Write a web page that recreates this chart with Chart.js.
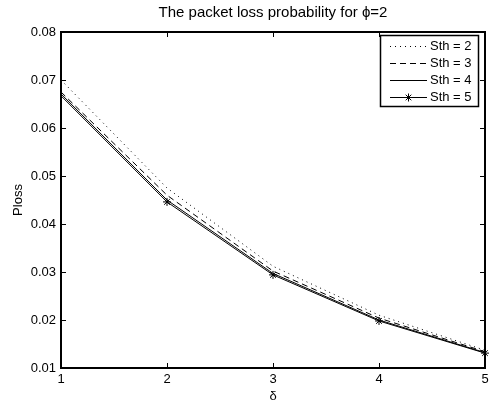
<!DOCTYPE html>
<html>
<head>
<meta charset="utf-8">
<script src="https://cdn.jsdelivr.net/npm/chart.js@4"></script>
<style>
  html, body { margin: 0; padding: 0; background: #fff; }
  #wrap { width: 490px; height: 404px; }
</style>
</head>
<body>
<div id="wrap"><canvas id="lossChart" width="490" height="404"></canvas></div>
<script>
// values
const deltas = ['1', '2', '3', '4', '5'];
const sth2 = [0.0700, 0.0475, 0.0312, 0.0210, 0.0137];
const sth3 = [0.0675, 0.0460, 0.0302, 0.0204, 0.0134];
const sth4 = [0.0671, 0.0450, 0.0297, 0.0200, 0.0132];
const sth5 = [0.0667, 0.0446, 0.0294, 0.0198, 0.0131];
const seriesNames = ['Sth = 2', 'Sth = 3', 'Sth = 4', 'Sth = 5'];

const FONT = '"Liberation Sans", Arial, Helvetica, sans-serif';
const dashes = [[1, 4], [6, 4], [], []];

// MATLAB-like box, inward ticks, title and legend
const matlabFrame = {
    id: 'matlabFrame',
    afterDatasetsDraw(chart) {
        const ctx = chart.ctx;
        const a = chart.chartArea;
        const x = chart.scales.x, y = chart.scales.y;
        ctx.save();
        ctx.strokeStyle = '#000';
        ctx.lineWidth = 1;
        ctx.beginPath();
        x.ticks.forEach((t, i) => {
            const px = Math.round(x.getPixelForTick(i)) + 0.5;
            ctx.moveTo(px, a.bottom); ctx.lineTo(px, a.bottom - 5);
            ctx.moveTo(px, a.top); ctx.lineTo(px, a.top + 5);
        });
        y.ticks.forEach((t, i) => {
            const py = Math.round(y.getPixelForTick(i)) + 0.5;
            ctx.moveTo(a.left, py); ctx.lineTo(a.left + 5, py);
            ctx.moveTo(a.right, py); ctx.lineTo(a.right - 5, py);
        });
        ctx.stroke();
        ctx.lineWidth = 2;
        ctx.strokeRect(a.left, a.top, a.right - a.left, a.bottom - a.top);

        // title
        ctx.fillStyle = '#000';
        ctx.font = '15px ' + FONT;
        ctx.textAlign = 'center';
        ctx.textBaseline = 'middle';
        ctx.fillText('The packet loss probability for \u03D5=2', (a.left + a.right) / 2, 13);

        // legend
        const bw = 98, bh = 71;
        const bx = a.right - 7 - bw, by = a.top + 3;
        ctx.fillStyle = '#fff';
        ctx.fillRect(bx, by, bw, bh);
        ctx.lineWidth = 1.5;
        ctx.strokeRect(bx + 0.5, by + 0.5, bw, bh);
        ctx.lineWidth = 1;
        ctx.font = '13px ' + FONT;
        ctx.textAlign = 'left';
        seriesNames.forEach((name, i) => {
            const ly = Math.round(by + 11 + i * 17) + 0.5;
            ctx.setLineDash(dashes[i]);
            ctx.beginPath();
            ctx.moveTo(bx + 10, ly);
            ctx.lineTo(bx + 47, ly);
            ctx.stroke();
            ctx.setLineDash([]);
            if (i === 3) {
                const cx = bx + 28.5, r = 4;
                ctx.beginPath();
                ctx.moveTo(cx - r, ly); ctx.lineTo(cx + r, ly);
                ctx.moveTo(cx, ly - r); ctx.lineTo(cx, ly + r);
                ctx.moveTo(cx - r * 0.7, ly - r * 0.7); ctx.lineTo(cx + r * 0.7, ly + r * 0.7);
                ctx.moveTo(cx - r * 0.7, ly + r * 0.7); ctx.lineTo(cx + r * 0.7, ly - r * 0.7);
                ctx.stroke();
            }
            ctx.fillStyle = '#000';
            ctx.fillText(name, bx + 50, ly);
        });
        ctx.restore();
    }
};

function makeSet(label, values, i) {
    return {
        label: label,
        data: values,
        borderColor: '#000',
        backgroundColor: '#000',
        borderWidth: 1,
        borderDash: dashes[i],
        fill: false,
        tension: 0,
        pointStyle: 'star',
        pointRadius: i === 3 ? [0, 4, 4, 4, 4] : 0,
        pointBorderWidth: 1,
        pointHoverRadius: 0
    };
}

document.addEventListener('DOMContentLoaded', function () {
    const ctx = document.getElementById('lossChart').getContext('2d');
    new Chart(ctx, {
        type: 'line',
        data: {
            labels: deltas,
            datasets: [
                makeSet(seriesNames[0], sth2, 0),
                makeSet(seriesNames[1], sth3, 1),
                makeSet(seriesNames[2], sth4, 2),
                makeSet(seriesNames[3], sth5, 3)
            ]
        },
        options: {
            responsive: false,
            animation: false,
            events: [],
            layout: { padding: { top: 32, right: 1, bottom: 0, left: 0 } },
            plugins: {
                legend: { display: false },
                title: { display: false },
                tooltip: { enabled: false }
            },
            scales: {
                x: {
                    offset: false,
                    grid: { display: false, drawTicks: false },
                    border: { display: false },
                    ticks: { color: '#000', font: { family: FONT, size: 13 }, padding: 4, maxRotation: 0 },
                    title: { display: true, text: '\u03B4', color: '#000', font: { family: FONT, size: 13 }, padding: { top: 3, bottom: 0 } },
                    afterFit(scale) {
                        scale.height = 36;
                        scale.paddingLeft = 0;
                        scale.paddingRight = 0;
                    }
                },
                y: {
                    min: 0.01,
                    max: 0.08,
                    grid: { display: false, drawTicks: false },
                    border: { display: false },
                    ticks: {
                        stepSize: 0.01,
                        color: '#000',
                        font: { family: FONT, size: 13 },
                        padding: 5,
                        callback: v => v.toFixed(2)
                    },
                    title: { display: true, text: 'Ploss', color: '#000', font: { family: FONT, size: 13 }, padding: { top: 11, bottom: 0 } },
                    afterFit(scale) {
                        scale.width = 61;
                        scale.paddingTop = 0;
                        scale.paddingBottom = 0;
                    }
                }
            }
        },
        plugins: [matlabFrame]
    });
});
</script>
</body>
</html>
